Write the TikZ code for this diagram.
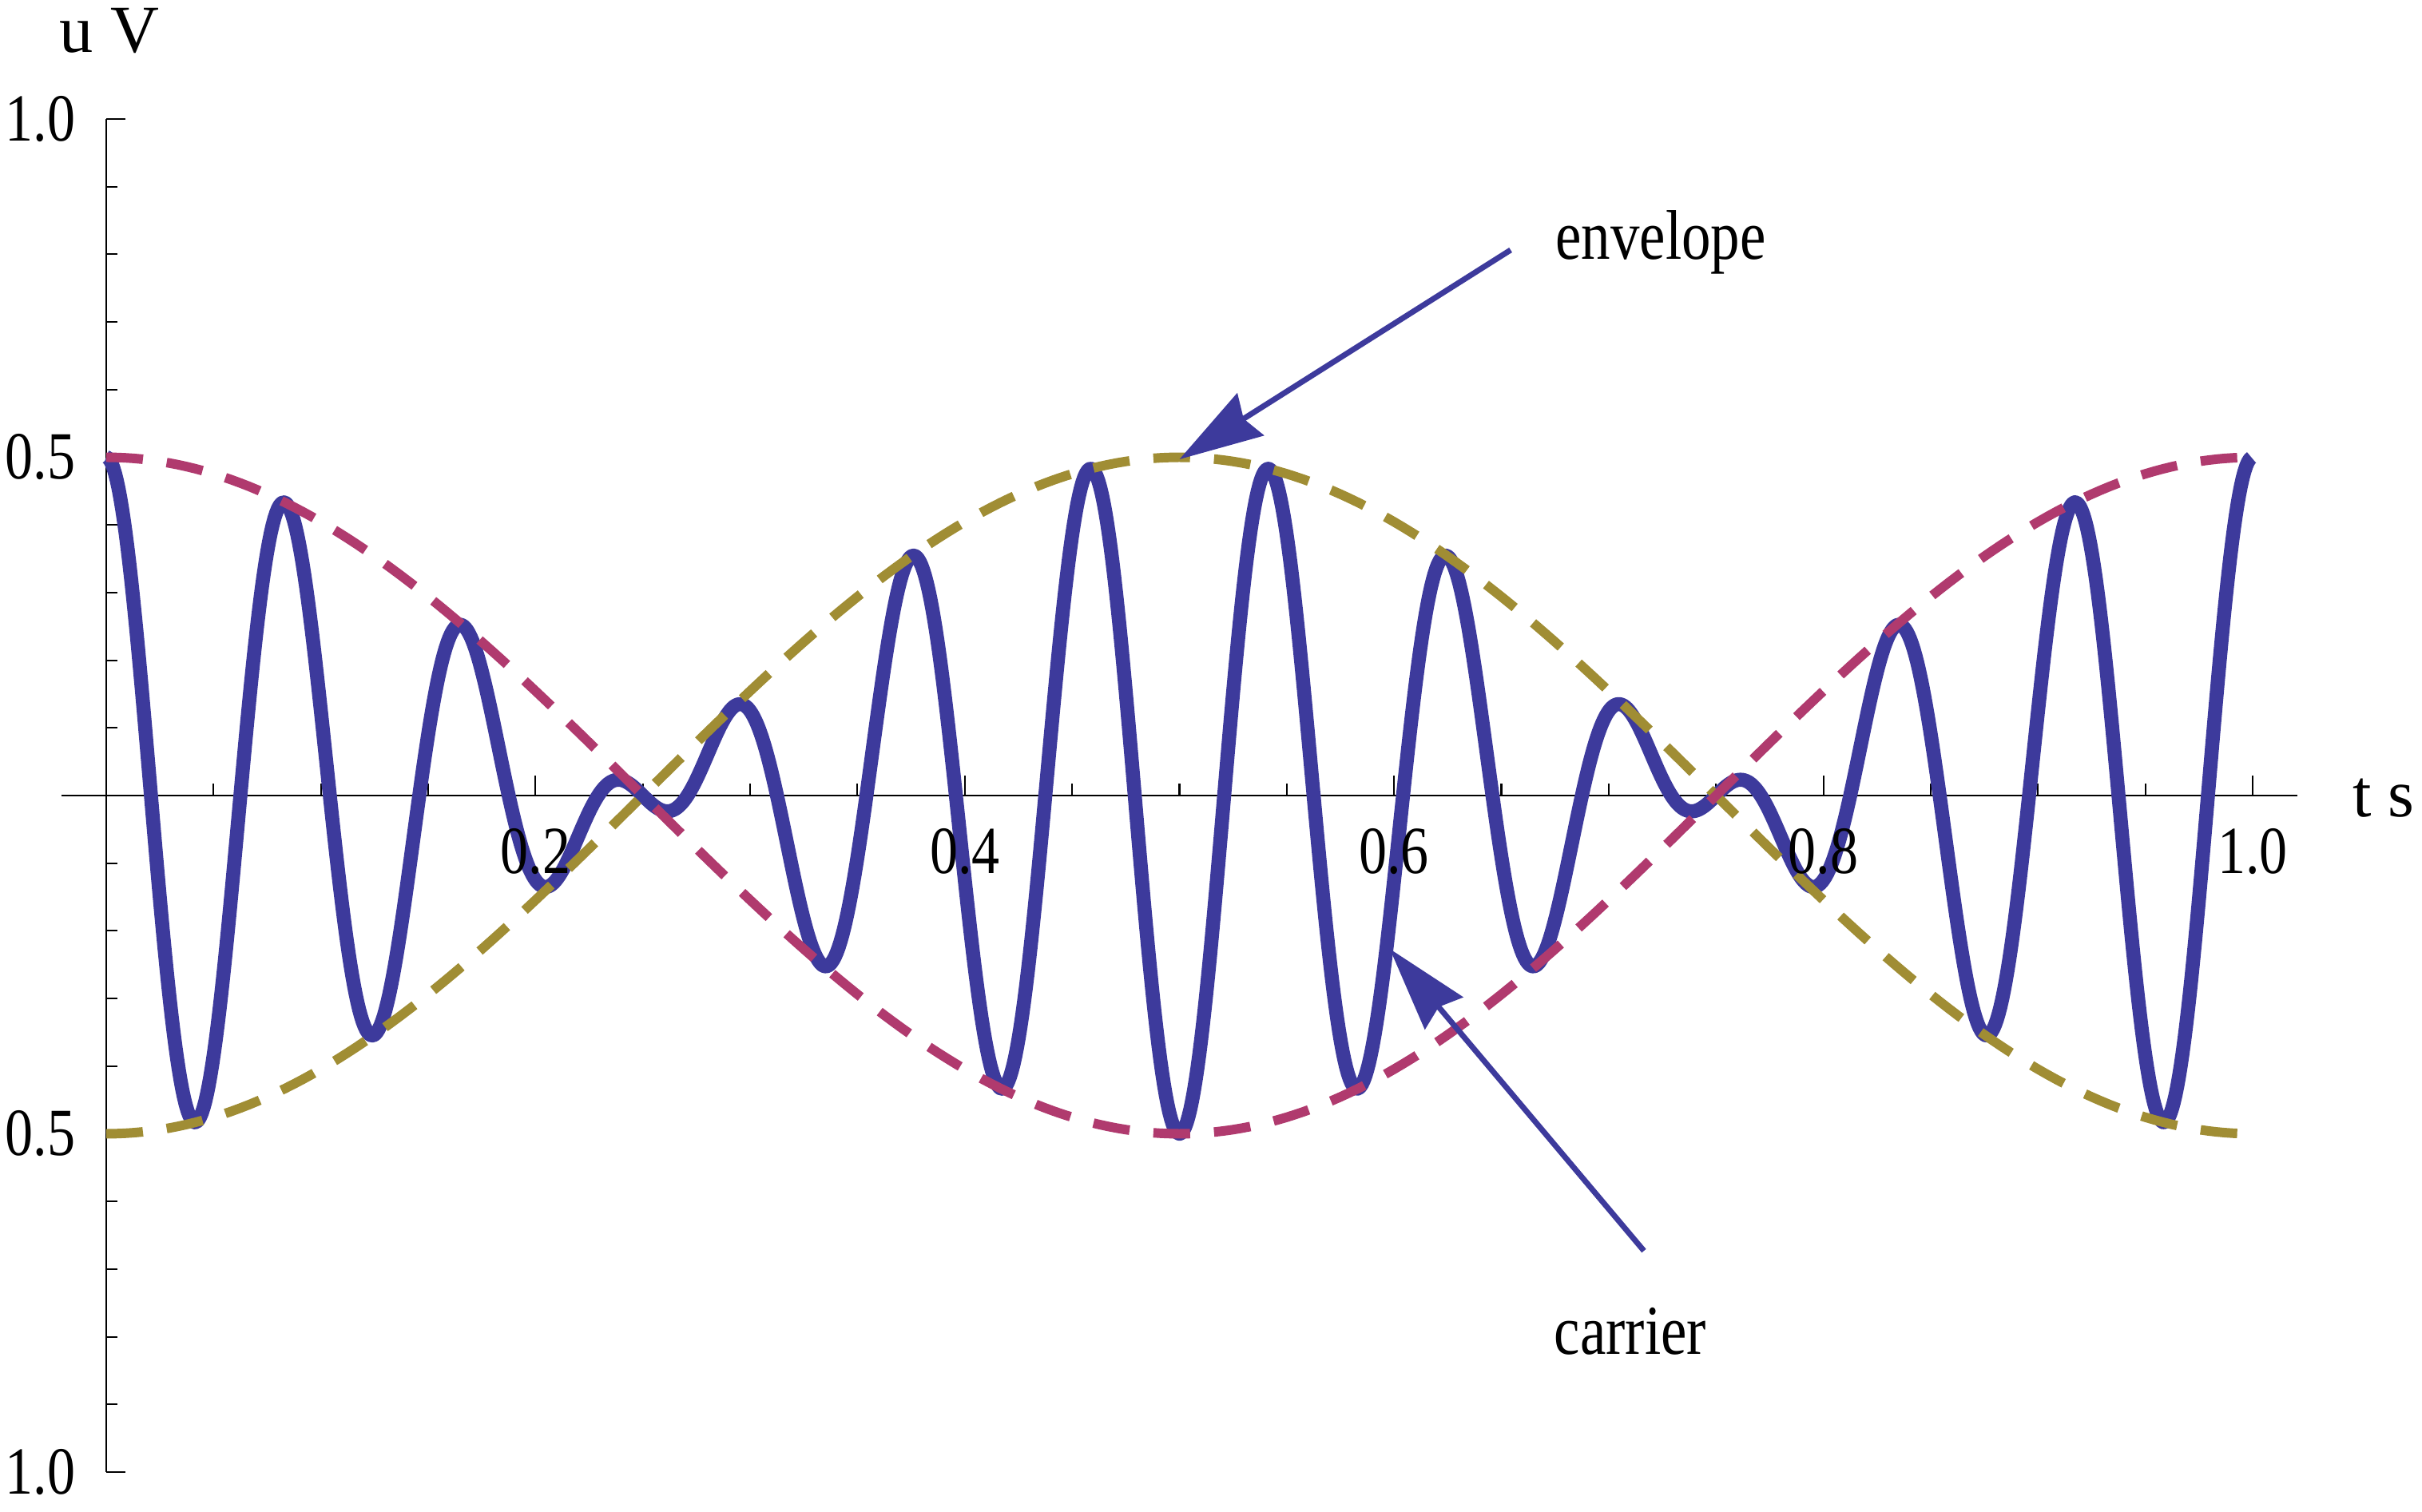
\documentclass[tikz,border=0pt]{standalone}
\usepackage{fontspec}
\setmainfont[FakeStretch=0.83]{Liberation Serif}
\newfontfamily\unitfont{Liberation Serif}
\usetikzlibrary{arrows.meta}
\definecolor{carrierblue}{RGB}{61,58,156}
\definecolor{envpink}{RGB}{176,58,110}
\definecolor{envgold}{RGB}{160,141,52}
\tikzset{
    axis-line/.style = {black, line width=0.6pt},
    carrier-line/.style = {carrierblue, line width=5pt, line join=round},
    envelope-line/.style = {line width=3.4pt, dash pattern=on 0.46cm off 0.3cm},
    pointer-arrow/.style = {draw=carrierblue, line width=2pt, -{Stealth[length=1.05cm, width=0.62cm, inset=0.1cm]}},
    tick-label/.style = {inner sep=0pt, font=\fontsize{24}{28}\selectfont},
    unit-label/.style = {inner sep=0pt, font=\unitfont\fontsize{24}{28}\selectfont},
    plot-label/.style = {inner sep=0pt, font=\fontsize{25}{30}\selectfont},
}

\begin{document}
\begin{tikzpicture}[x=26.87cm, y=8.47cm]
\useasboundingbox (-0.0495,-1.0579) rectangle (1.0789,1.1759);

\draw[axis-line] (-0.021,0) -- (1.0208,0);
\draw[axis-line] (0,-1) -- (0,1);
\foreach \k in {1,...,9} {
    \draw[axis-line] (0,\k/10) -- ++(0.14cm,0);
    \draw[axis-line] (0,-\k/10) -- ++(0.14cm,0);
}
\foreach \u in {1,0.5,-0.5,-1}
    \draw[axis-line] (0,\u) -- ++(0.24cm,0);
\foreach \k in {1,...,20}
    \draw[axis-line] (\k/20,0) -- ++(0,0.15cm);
\foreach \t in {0.2,0.4,0.6,0.8,1.0}
    \draw[axis-line] (\t,0) -- ++(0,0.25cm);

\draw[carrier-line] plot[domain=0:1, samples=1201] (\x,{0.5*cos(360*\x)*cos(4320*\x)});
\draw[envelope-line, envgold] plot[domain=0:1, samples=241] (\x,{-0.5*cos(360*\x)});
\draw[envelope-line, envpink] plot[domain=0:1, samples=241] (\x,{0.5*cos(360*\x)});

\foreach \u/\lab [count=\i] in {1/1.0, 0.5/0.5, -0.5/0.5, -1/1.0}
    \node[tick-label, anchor=east] (ylab-\i) at (-0.0141,\u) {\lab};
\foreach \t [count=\i] in {0.2,0.4,0.6,0.8,1.0}
    \node[tick-label, anchor=north] (xlab-\i) at (\t,-0.0484) {\t};
\node[unit-label, anchor=base] (ulabel) at (0.0015,1.098) {u V};
\node[unit-label, anchor=base] (tlabel) at (1.061,-0.0307) {t s};

\node[plot-label, anchor=base] (envlabel) at (0.7242,0.7922) {envelope};
\coordinate (envfrom) at (0.6543,0.8064);
\coordinate (envtip) at (0.5,0.497);
\draw[pointer-arrow] (envfrom) -- (envtip);

\node[plot-label, anchor=base] (carlabel) at (0.7101,-0.8264) {carrier};
\coordinate (carfrom) at (0.7164,-0.673);
\coordinate (cartip) at (0.598,-0.2267);
\draw[pointer-arrow] (carfrom) -- (cartip);
\end{tikzpicture}
\end{document}
